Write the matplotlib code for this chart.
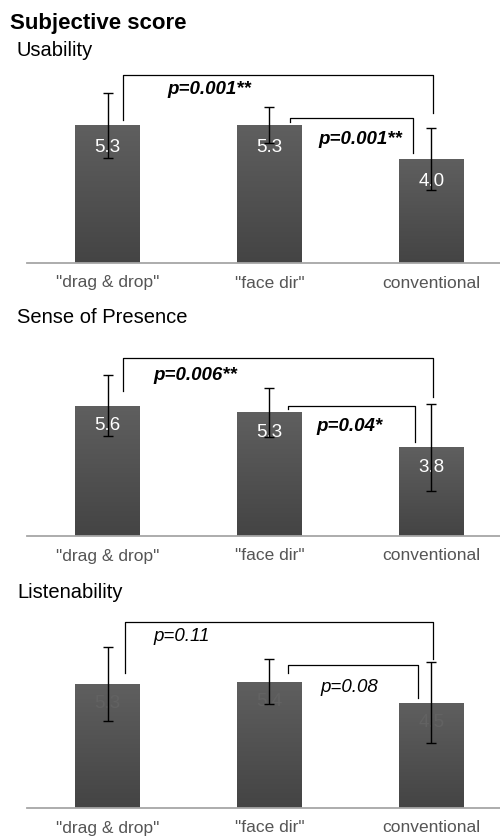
import numpy as np
import matplotlib
matplotlib.use("Agg")
import matplotlib.pyplot as plt

plt.rcParams['font.family'] = ['Liberation Sans', 'DejaVu Sans']

# ---------------- data ----------------
categories = ['"drag & drop"', '"face dir"', 'conventional']

titles = ['Usability', 'Sense of Presence', 'Listenability']

usability = [5.3, 5.3, 4.0]
usability_err = [1.25, 0.7, 1.2]

presence = [5.6, 5.3, 3.8]
presence_err = [1.3, 1.05, 1.85]

listen = [5.3, 5.4, 4.5]
listen_err = [1.6, 0.97, 1.74]

p_long = ['p=0.001**', 'p=0.006**', 'p=0.11']     # drag & drop vs conventional
p_short = ['p=0.001**', 'p=0.04*', 'p=0.08']      # face dir vs conventional
p_bold = [True, True, False]

values = [usability, presence, listen]
errors = [usability_err, presence_err, listen_err]

# ---------------- layout (pixels) ----------------
W, H = 500, 836
# (top of axes, baseline) in px, and y max in data units
panels = [(60, 263, 7.8), (330, 536, 8.84), (605, 808, 8.68)]
title_y = [50, 318, 592]

# bracket geometry per panel: (top, left leg end, right leg end) in data units
big_br = [(7.23, 5.50, 5.77), (7.64, 6.22, 5.97), (7.95, 5.77, 6.37)]
small_br = [(5.58, 5.42, 4.23), (5.58, 5.45, 4.03), (6.11, 5.77, 4.70)]
big_x = [(0.096, 2.009), (0.096, 2.009), (0.108, 2.009)]
small_x = [(1.127, 1.886), (1.114, 1.898), (1.114, 1.917)]
txt1 = [(0.367, 6.65), (0.281, 6.87), (0.281, 7.35)]
txt2 = [(1.30, 4.73), (1.287, 4.68), (1.312, 5.17)]
label_color = ['white', 'white', '#626262']

fig = plt.figure(figsize=(W / 100, H / 100), dpi=100)

fig.text(10 / W, 1 - 23 / H, 'Subjective score', fontsize=16,
         fontweight='bold', va='center', ha='left')

grad = np.linspace(0, 1, 100).reshape(-1, 1)
cmap = matplotlib.colors.LinearSegmentedColormap.from_list('g', ['#444444', '#5f5f5f'])

for k in range(3):
    top, base, ymax = panels[k]
    ax = fig.add_axes([27 / W, 1 - base / H, 473 / W, (base - top) / H])
    x = np.arange(len(categories))
    bars = ax.bar(x, values[k], width=0.4, color='#525252', zorder=2)
    # vertical gradient inside each bar
    for b in bars:
        x0, y0 = b.get_x(), b.get_y()
        im = ax.imshow(grad, cmap=cmap, origin='lower', aspect='auto',
                       extent=[x0, x0 + b.get_width(), y0, y0 + b.get_height()], zorder=2)
        im.set_clip_path(b)
    ax.errorbar(x, values[k], yerr=errors[k], fmt='none', ecolor='black',
                elinewidth=1, capsize=3.5, capthick=1, zorder=4)
    for xi, v in zip(x, values[k]):
        ax.text(xi, v - 0.85, '%.1f' % v, ha='center', va='center',
                color=label_color[k], fontsize=13.5, zorder=3)

    # significance brackets
    bt, bl, br = big_br[k]
    ax.plot([big_x[k][0], big_x[k][0], big_x[k][1], big_x[k][1]], [bl, bt, bt, br],
            color='black', lw=0.9, zorder=5)
    st, sl, sr = small_br[k]
    ax.plot([small_x[k][0], small_x[k][0], small_x[k][1], small_x[k][1]], [sl, st, st, sr],
            color='black', lw=0.9, zorder=5)
    fw = 'bold' if p_bold[k] else 'normal'
    ax.text(txt1[k][0], txt1[k][1], p_long[k], style='italic', fontweight=fw,
            fontsize=13.5, ha='left', va='center')
    ax.text(txt2[k][0], txt2[k][1], p_short[k], style='italic', fontweight=fw,
            fontsize=13.5, ha='left', va='center')

    ax.set_xlim(-0.497, 2.423)
    ax.set_ylim(0, ymax)
    ax.set_xticks(x)
    ax.set_xticklabels(categories, color='#555555', fontsize=12.5)
    ax.tick_params(axis='x', length=0, pad=9)
    ax.set_yticks([])
    for s in ['top', 'right', 'left']:
        ax.spines[s].set_visible(False)
    ax.spines['bottom'].set_color('#a6a6a6')
    ax.spines['bottom'].set_linewidth(1.3)
    ax.patch.set_alpha(0)

    fig.text(17 / W, 1 - title_y[k] / H, titles[k], fontsize=14.5, va='center', ha='left')

fig.savefig('out.png', dpi=100)
